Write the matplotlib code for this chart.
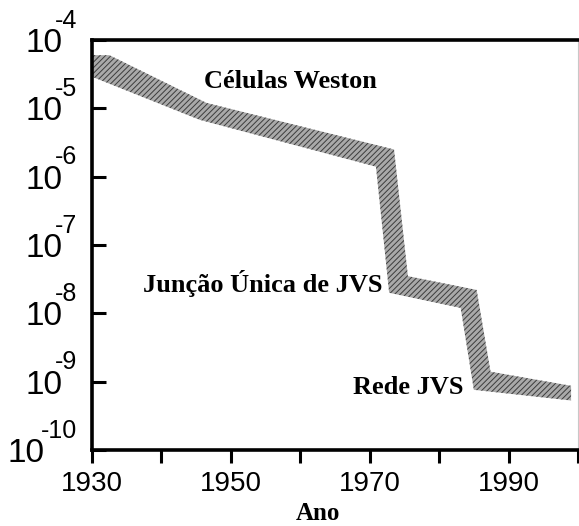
import matplotlib
matplotlib.use("Agg")
import matplotlib.pyplot as plt
import matplotlib.transforms as mtransforms

# faixa de incerteza (borda superior e inferior)
anos_sup = [1930, 1932.5, 1946.5, 1973.5, 1975.5, 1985.4, 1987.4, 1999]
vals_sup = [6.0e-5, 6.0e-5, 1.2e-5, 2.5e-6, 3.5e-8, 2.2e-8, 1.4e-9, 8.7e-10]
anos_inf = [1930, 1945.5, 1970.9, 1972.8, 1983.1, 1985.0, 1999]
vals_inf = [2.9e-5, 6.8e-6, 1.4e-6, 2.0e-8, 1.2e-8, 7.6e-10, 5.3e-10]

x_major = [1930, 1950, 1970, 1990]
x_minor = [1940, 1960, 1980, 2000]
y_exps = [-4, -5, -6, -7, -8, -9, -10]

rotulos = [
    ("Células Weston", 1946.2, 2.5e-5, "left"),
    ("Junção Única de JVS", 1971.8, 2.75e-8, "right"),
    ("Rede JVS", 1983.5, 8.1e-10, "right"),
]

plt.rcParams["hatch.linewidth"] = 0.7

fig = plt.figure(figsize=(5.79, 5.26), dpi=100)
ax = fig.add_axes([92 / 579, 1 - 450 / 526, 486 / 579, 410 / 526])

xs = anos_sup + anos_inf[::-1]
ys = vals_sup + vals_inf[::-1]
ax.fill(xs, ys, facecolor="#a9a9a9", edgecolor="#3c3c3c", hatch="//////",
        linewidth=0)

ax.set_yscale("log")
ax.set_xlim(1930, 2000)
ax.set_ylim(1e-10, 1e-4)

ax.set_xticks(x_major)
ax.set_xticklabels([str(a) for a in x_major], fontsize=20,
                   fontfamily="Liberation Sans")
ax.set_xticks(x_minor, minor=True)
ax.set_yticks([10.0 ** e for e in y_exps])
ax.set_yticklabels(["10"] * len(y_exps), fontsize=24,
                   fontfamily="Liberation Sans")
ax.yaxis.set_minor_locator(matplotlib.ticker.NullLocator())

ax.tick_params(axis="x", which="both", direction="out", length=9, width=2.2,
               pad=6)
ax.tick_params(axis="y", which="major", direction="in", length=10, width=2.2,
               pad=21)
# o "10" do 10^-10 fica mais a esquerda por causa do expoente de 2 digitos
for t in ax.yaxis.get_major_ticks():
    if abs(t.get_loc() - 1e-10) < 1e-12:
        t.set_pad(34)

# expoentes grandes, acima e a direita do "10"
trans = mtransforms.blended_transform_factory(ax.transAxes, ax.transData)
trans = trans + mtransforms.ScaledTranslation(0, 9 / 72, fig.dpi_scale_trans)
for e in y_exps:
    ax.text(-15 / 486, 10.0 ** e, "-%d" % abs(e), transform=trans,
            ha="right", va="baseline", fontsize=18,
            fontfamily="Liberation Sans", clip_on=False)

for s in ["left", "bottom", "top"]:
    ax.spines[s].set_linewidth(2.6)
ax.spines["right"].set_linewidth(0.8)
ax.spines["right"].set_color("#c8c8c8")

for txt, x, y, ha in rotulos:
    ax.text(x, y, txt, ha=ha, va="center", fontsize=19, fontweight="bold",
            fontfamily="Liberation Serif")

ax.set_xlabel("Ano", fontsize=18, fontweight="bold",
              fontfamily="Liberation Serif")
ax.xaxis.set_label_coords(0.465, -0.128)

fig.savefig("out.png", dpi=100)
